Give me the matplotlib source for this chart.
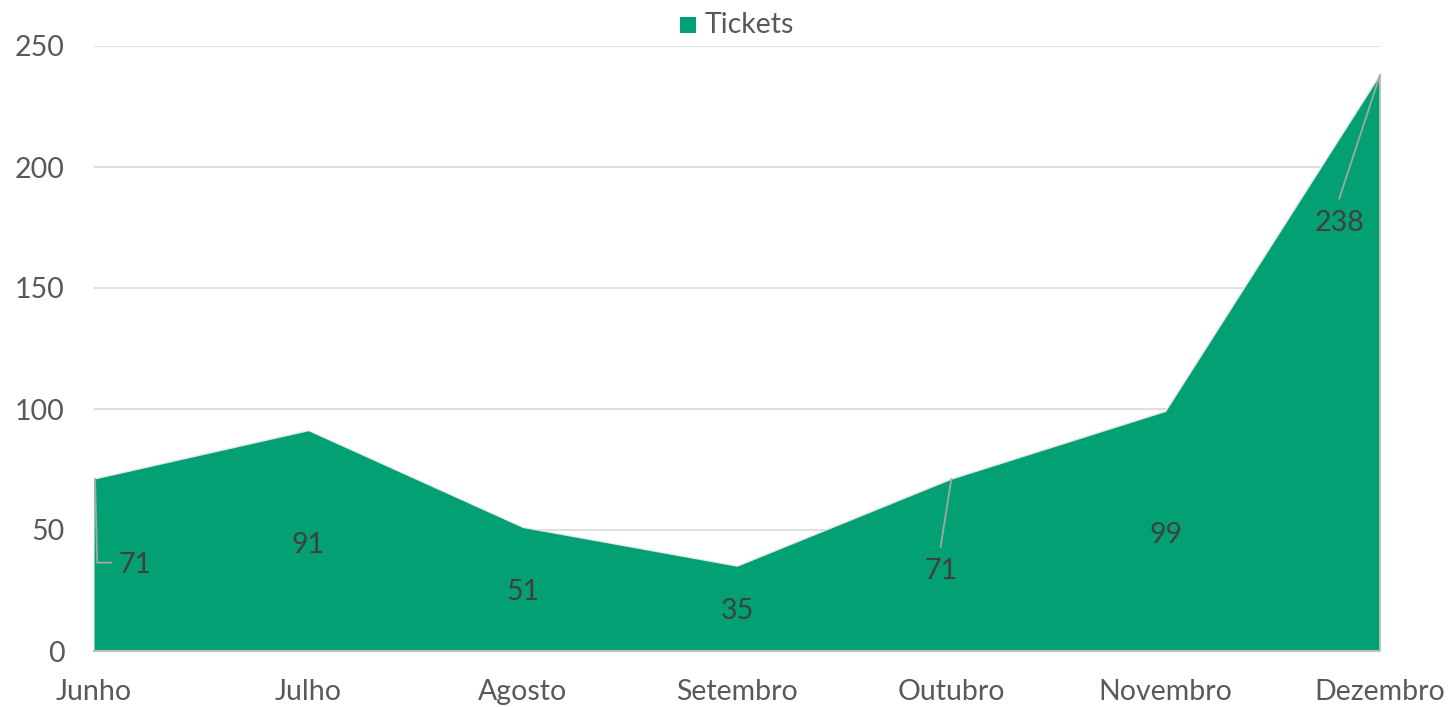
import matplotlib.pyplot as plt
from matplotlib.patches import Rectangle

plt.rcParams['font.family'] = ['Lato', 'DejaVu Sans']

months = ['Junho', 'Julho', 'Agosto', 'Setembro', 'Outubro', 'Novembro', 'Dezembro']
tickets = [71, 91, 51, 35, 71, 99, 238]
yticks = [0, 50, 100, 150, 200, 250]

# where each data label sits (x shift in categories, y in data units) and leader line flag
label_dx = [0.19, 0.0, 0.0, 0.0, -0.05, 0.0, -0.19]
label_y = [35.5, 44, 24.5, 16.5, 33, 48, 177]
leader = [True, False, False, False, True, False, True]

green = '#03a073'
grey_text = '#595959'
fs = 20.5

fig = plt.figure(figsize=(14.48, 7.07), dpi=100)
ax = fig.add_axes([94 / 1448, 1 - 651 / 707, (1380 - 94) / 1448, (651 - 46) / 707])

x = list(range(len(months)))
ax.fill_between(x, tickets, 0, color=green, linewidth=0, zorder=2)
ax.plot(x, tickets, color='#e8e8e8', linewidth=1.2, zorder=1.9)

ax.set_xlim(0, len(months) - 1)
ax.set_ylim(0, 250)
ax.set_yticks(yticks)
ax.set_yticklabels([str(v) for v in yticks])
ax.set_xticks(x)
ax.set_xticklabels(months)
ax.grid(axis='y', color='#d9d9d9', linewidth=1.2, zorder=0)
ax.tick_params(axis='both', length=0, labelsize=fs, colors=grey_text)
ax.tick_params(axis='y', pad=21)
ax.tick_params(axis='x', pad=20)
for side in ['top', 'right', 'left']:
    ax.spines[side].set_visible(False)
ax.spines['bottom'].set_color('#bfbfbf')
ax.spines['bottom'].set_linewidth(1.5)
ax.spines['bottom'].set_zorder(3)
ax.plot([x[-1], x[-1]], [0, tickets[-1]], color='#c8c8c8', linewidth=1.2, zorder=3, clip_on=False)

for i, v in enumerate(tickets):
    lx = x[i] + label_dx[i]
    ly = label_y[i]
    ax.text(lx, ly, str(v), ha='center', va='center', fontsize=fs, color='#404040', zorder=5)
    if leader[i]:
        if i == 0:
            ax.plot([x[i] + 0.005, x[i] + 0.015, x[i] + 0.08], [v, ly + 1, ly + 1],
                    color='#a6a6a6', linewidth=1.3, zorder=4, clip_on=False)
        else:
            ax.plot([x[i], lx], [v, ly + 10], color='#a6a6a6', linewidth=1.3, zorder=4, clip_on=False)

# legend at top center
fig.patches.append(Rectangle((680 / 1448, 1 - 33 / 707), 16 / 1448, 16 / 707,
                             transform=fig.transFigure, facecolor=green, edgecolor='none'))
fig.text(705 / 1448, 1 - 25 / 707, 'Tickets', fontsize=fs, color=grey_text, va='center', ha='left')

fig.savefig('out.png', dpi=100)
